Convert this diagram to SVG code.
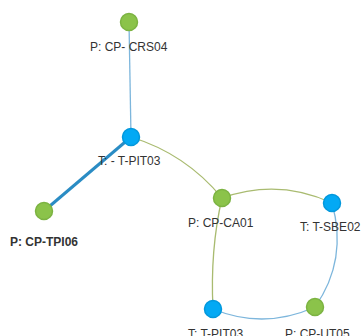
<svg xmlns="http://www.w3.org/2000/svg" width="362" height="336" viewBox="0 0 362 336">
<style>
.g{fill:#8bc34a;stroke:#7cb342;stroke-width:1.5}
.b{fill:#03a9f4;stroke:#0398dc;stroke-width:1.5}
.lbl{font-family:"Liberation Sans",Arial,sans-serif;font-size:12px;fill:#333}
.eg{fill:none;stroke:#a9bb70;stroke-width:1.3}
.eb{fill:none;stroke:#7db6dc;stroke-width:1.3}
</style>
<rect width="362" height="336" fill="#fff"/>
<g id="edges">
<path class="eb" d="M129,22 L131,137"/>
<path d="M131,137 L44,211" fill="none" stroke="#2a8cc4" stroke-width="3"/>
<path class="eg" d="M131,137 Q186,154 222,198"/>
<path class="eg" d="M222,198 Q278,178 332,203"/>
<path class="eg" d="M222,198 Q210,250 213,309"/>
<path class="eb" d="M213,309 Q264,330 315,307"/>
<path class="eb" d="M315,307 Q348,260 332,203"/>
</g>
<g id="n-crs04"><circle class="g" cx="129" cy="22" r="8.5"/><text class="lbl" x="90" y="51">P: CP- CRS04</text></g>
<g id="n-tpit03a"><circle class="b" cx="131" cy="137" r="8.5"/><text class="lbl" x="98" y="165">T: - T-PIT03</text></g>
<g id="n-tpi06"><circle class="g" cx="44" cy="211" r="8.5"/><text class="lbl" x="10" y="246" font-weight="bold">P: CP-TPI06</text></g>
<g id="n-ca01"><circle class="g" cx="222" cy="198" r="8.5"/><text class="lbl" x="188" y="227">P: CP-CA01</text></g>
<g id="n-sbe02"><circle class="b" cx="332" cy="203" r="8.5"/><text class="lbl" x="300" y="231">T: T-SBE02</text></g>
<g id="n-tpit03b"><circle class="b" cx="213" cy="309" r="8.5"/><text class="lbl" x="188" y="338">T: T-PIT03</text></g>
<g id="n-ut05"><circle class="g" cx="315" cy="307" r="8.5"/><text class="lbl" x="285" y="338">P: CP-UT05</text></g>
</svg>
